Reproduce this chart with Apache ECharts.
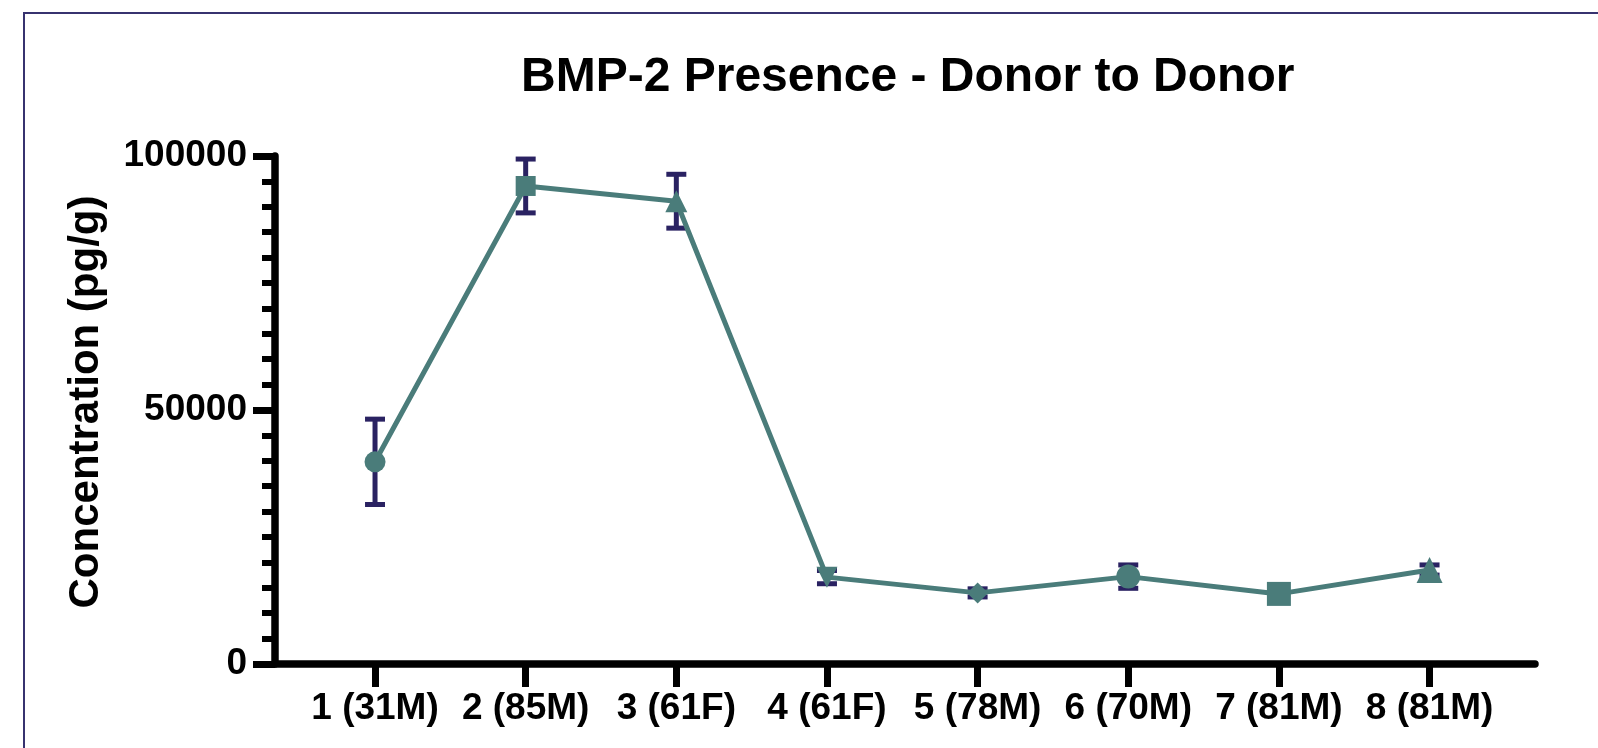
<!DOCTYPE html>
<html>
<head>
<meta charset="utf-8">
<script src="https://cdn.jsdelivr.net/npm/echarts@6/dist/echarts.min.js"></script>
<style>
  html, body { margin: 0; padding: 0; background: #ffffff; }
  #wrap { position: relative; width: 1598px; height: 748px; overflow: hidden; }
  #chart { width: 1598px; height: 748px; }
  #frame { position: absolute; left: 23px; top: 12px; width: 1600px; height: 760px;
           border-left: 2px solid #37326f; border-top: 2px solid #37326f; pointer-events: none; }
</style>
</head>
<body>
<div id="wrap">
  <div id="chart"></div>
  <div id="frame"></div>
</div>
<script>
// ---- data ----
const categories = ['1 (31M)', '2 (85M)', '3 (61F)', '4 (61F)', '5 (78M)', '6 (70M)', '7 (81M)', '8 (81M)'];
const means = [39800, 94100, 91100, 17100, 14000, 17200, 13800, 18500];
const errors = [8400, 5300, 5300, 1300, 800, 2300, 500, 1000];
const yTicks = [0, 50000, 100000];

// ---- styles ----
const symbols = ['circle', 'rect', 'triangle', 'triangle', 'diamond', 'circle', 'rect', 'triangle'];
const symbolRotates = [0, 0, 0, 180, 0, 0, 0, 0];
const symbolSizes = [21, 20, 22, 21, 21, 24, 24, 26];
const teal = '#4a7c7a';
const navy = '#2a2262';
const font = "'Liberation Sans', Arial, sans-serif";

const xPositions = categories.map((c, i) => i + 1);
const lineData = means.map((m, i) => ({
  value: [xPositions[i], m],
  symbol: symbols[i],
  symbolRotate: symbolRotates[i],
  symbolSize: symbolSizes[i]
}));
const errData = means.map((m, i) => [xPositions[i], m - errors[i], m + errors[i]]);

const chart = echarts.init(document.getElementById('chart'), null, { renderer: 'canvas' });
chart.setOption({
  backgroundColor: '#ffffff',
  animation: false,
  title: {
    text: 'BMP-2 Presence - Donor to Donor',
    left: 516,
    top: 49,
    textStyle: { fontFamily: font, fontWeight: 'bold', fontSize: 48, color: '#000' }
  },
  grid: { left: 275, right: 63, top: 156, bottom: 84, containLabel: false },
  xAxis: {
    type: 'value',
    min: 0.336,
    max: 8.70,
    splitLine: { show: false },
    axisLine: { show: true, onZero: false, lineStyle: { color: '#000', width: 7.5 } },
    axisTick: { show: true, customValues: xPositions, length: 23, lineStyle: { color: '#000', width: 7, opacity: 1 } },
    axisLabel: {
      customValues: xPositions,
      margin: 26,
      fontFamily: font, fontWeight: 'bold', fontSize: 37, color: '#000',
      formatter: v => categories[Math.round(v) - 1]
    }
  },
  yAxis: {
    type: 'value',
    min: yTicks[0],
    max: yTicks[yTicks.length - 1],
    interval: yTicks[1] - yTicks[0],
    name: 'Concentration (pg/g)',
    nameLocation: 'middle',
    nameGap: 168,
    nameTextStyle: { fontFamily: font, fontWeight: 'bold', fontSize: 42, color: '#000', padding: [0, 0, 0, 16] },
    splitLine: { show: false },
    axisLine: { show: true, lineStyle: { color: '#000', width: 7.5 } },
    axisTick: { show: true, length: 22, lineStyle: { color: '#000', width: 7, opacity: 1 } },
    minorTick: { show: true, splitNumber: 10, length: 13, lineStyle: { color: '#000', width: 6, opacity: 1 } },
    axisLabel: {
      margin: 28, fontFamily: font, fontWeight: 'bold', fontSize: 37, color: '#000',
      formatter: v => String(v)
    }
  },
  series: [
    {
      type: 'custom',
      z: 1,
      data: errData,
      renderItem: function (params, api) {
        const x = api.value(0);
        const lo = api.coord([x, api.value(1)]);
        const hi = api.coord([x, api.value(2)]);
        const hw = 10;
        const st = { stroke: navy, lineWidth: 5 };
        return {
          type: 'group',
          children: [
            { type: 'line', shape: { x1: lo[0], y1: lo[1], x2: hi[0], y2: hi[1] }, style: st },
            { type: 'line', shape: { x1: lo[0] - hw, y1: lo[1], x2: lo[0] + hw, y2: lo[1] }, style: st },
            { type: 'line', shape: { x1: hi[0] - hw, y1: hi[1], x2: hi[0] + hw, y2: hi[1] }, style: st }
          ]
        };
      }
    },
    {
      type: 'line',
      z: 3,
      data: lineData,
      lineStyle: { color: teal, width: 5 },
      itemStyle: { color: teal, opacity: 1 },
      showAllSymbol: true
    }
  ]
});
</script>
</body>
</html>
